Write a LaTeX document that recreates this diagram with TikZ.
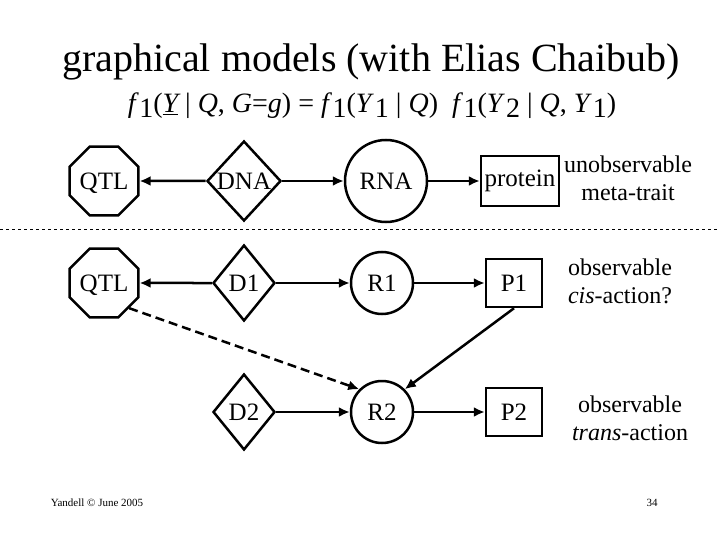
\documentclass[tikz,border=0pt]{standalone}
\usepackage{fontspec}
\setmainfont{Liberation Serif}
\usetikzlibrary{shapes.geometric,arrows.meta}
\newcommand{\fone}{\textit{f}\kern0.5pt\raisebox{-0.35ex}{1}}
\newcommand{\ysub}[1]{\textit{Y}\kern1pt\raisebox{-0.35ex}{#1}}
\begin{document}
\begin{tikzpicture}[x=1pt,y=-1pt,
  lbl/.style={font=\fontsize{25}{28}\selectfont,inner sep=0pt},
  oct/.style={lbl,draw,line width=2.5pt,regular polygon,regular polygon sides=8,minimum size=58pt,inner sep=0pt,text depth=0pt},
  dia/.style={lbl,draw,line width=2.5pt,diamond,minimum width=62pt,minimum height=76pt,inner sep=0pt},
  cir/.style={lbl,draw,line width=2.5pt,circle,minimum size=62pt,inner sep=0pt},
  box/.style={lbl,draw,line width=2.5pt,rectangle,minimum width=56pt,minimum height=48pt,inner sep=2pt},
  arr/.style={line width=2.5pt,-{Latex[length=11pt,width=10pt]}},
  side/.style={font=\fontsize{24}{28}\selectfont,align=center}]
\useasboundingbox (0,0) rectangle (720,540);
\node[font=\fontsize{40}{44}\selectfont] (title) at (371,62) {graphical models (with Elias Chaibub)};
\node[font=\fontsize{28}{30}\selectfont] (form) at (372,106) {\fone(\underline{\itshape Y} | \textit{Q}, \textit{G}=\textit{g}) = \fone(\ysub{1} | \textit{Q}) \ \fone(\ysub{2} | \textit{Q}, \ysub{1})};
% row 1
\node[oct] (q0) at (104,181) {QTL};
\node[dia,minimum width=74pt,minimum height=80pt] (dna) at (244,181) {DNA};
\node[cir,minimum size=82pt] (rna) at (386,181) {RNA};
\node[box,minimum width=78pt,minimum height=50pt] (pro) at (520,181) {protein};
\node[side] (t0) at (628,178) {unobservable\\meta-trait};
\draw[arr] (dna) -- (q0);
\draw[arr] (dna) -- (rna);
\draw[arr] (rna) -- (pro);
\coordinate (dl) at (0,229);
\coordinate (dr) at (720,229);
\draw[dashed,line width=0.8pt] (dl) -- (dr);
% row 2
\node[oct] (q1) at (104,283) {QTL};
\node[dia] (d1) at (244,283) {D1};
\node[cir] (r1) at (382,283) {R1};
\node[box] (p1) at (514,283) {P1};
\node[side] (t1) at (620,281) {observable\\\textit{cis}-action?};
\draw[arr] (d1) -- (q1);
\draw[arr] (d1) -- (r1);
\draw[arr] (r1) -- (p1);
% row 3
\node[dia] (d2) at (244,412) {D2};
\node[cir] (r2) at (382,412) {R2};
\node[box] (p2) at (514,412) {P2};
\node[side] (t2) at (630,418) {observable\\\textit{trans}-action};
\draw[arr] (d2) -- (r2);
\draw[arr] (r2) -- (p2);
\draw[arr] (p1.south) -- (r2.north east);
\draw[arr,dashed,dash pattern=on 9pt off 5pt] (q1.south east) -- (r2.north west);
\node[font=\fontsize{11}{13}\selectfont] (foot) at (97,503) {Yandell © June 2005};
\node[font=\fontsize{11}{13}\selectfont] (pg) at (652,503) {34};
\end{tikzpicture}
\end{document}
